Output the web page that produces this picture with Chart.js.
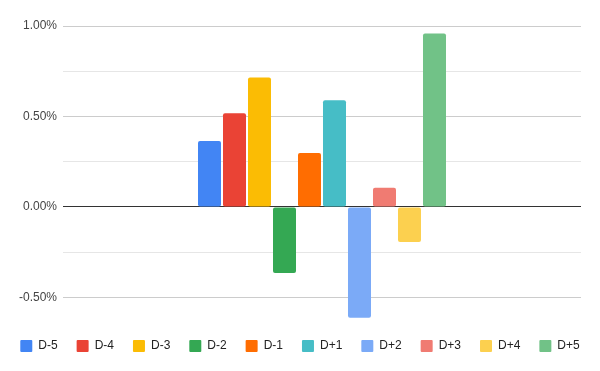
<!DOCTYPE html>
<html>
<head>
<meta charset="utf-8">
<script src="https://cdn.jsdelivr.net/npm/chart.js@4"></script>
<style>
html,body{margin:0;padding:0;background:#fff;}
#wrap{width:600px;height:371px;}
</style>
</head>
<body>
<div id="wrap"><canvas id="c" width="600" height="371"></canvas></div>
<script>
const categories = [''];
const seriesNames = ['D-5','D-4','D-3','D-2','D-1','D+1','D+2','D+3','D+4','D+5'];
const seriesValues = [0.364, 0.518, 0.716, -0.365, 0.298, 0.59, -0.612, 0.106, -0.194, 0.958];
const seriesColors = ['#4285F4','#EA4335','#FBBC04','#34A853','#FF6D01','#46BDC6','#7BAAF7','#F07B72','#FCD04F','#71C287'];
const yTicks = [-0.5, -0.25, 0, 0.25, 0.5, 0.75, 1.0];
const yLabels = ['-0.50%', '', '0.00%', '', '0.50%', '', '1.00%'];

Chart.defaults.font.family = '"Liberation Sans", Arial, sans-serif';
Chart.defaults.font.size = 12;

const datasets = seriesNames.map((n, i) => ({
  label: n,
  data: [seriesValues[i]],
  backgroundColor: seriesColors[i],
  borderWidth: 0,
  borderRadius: 2,
  borderSkipped: false,
  categoryPercentage: 0.4826,
  barPercentage: 0.92
}));

new Chart(document.getElementById('c'), {
  type: 'bar',
  data: { labels: categories, datasets },
  options: {
    responsive: false,
    animation: false,
    devicePixelRatio: 1,
    layout: { padding: { left: 0, right: 0, top: 26, bottom: 9 } },
    plugins: {
      tooltip: { enabled: false },
      legend: {
        position: 'bottom',
        labels: {
          boxWidth: 12,
          boxHeight: 12,
          padding: 19,
          color: '#222',
          font: { size: 12 },
          useBorderRadius: true,
          borderRadius: 1
        }
      }
    },
    scales: {
      x: { display: false },
      y: {
        min: -0.63,
        max: 1.0,
        afterFit: (ax) => { ax.width = 63; },
        afterBuildTicks: (ax) => { ax.ticks = yTicks.map(v => ({ value: v })); },
        ticks: {
          padding: 6,
          color: '#444',
          font: { size: 12 },
          callback: (v) => { const i = yTicks.findIndex(t => Math.abs(t - v) < 1e-9); return i >= 0 ? yLabels[i] : ''; }
        },
        border: { display: false },
        grid: {
          drawTicks: false,
          color: (ctx) => {
            const v = ctx.tick ? ctx.tick.value : null;
            if (v === null) return 'rgba(0,0,0,0)';
            if (Math.abs(v) < 1e-9) return '#333333';
            if (Math.abs(Math.round(v / 0.5) * 0.5 - v) < 1e-9) return '#cccccc';
            return '#e6e6e6';
          },
          lineWidth: 1
        }
      },
      yR: {
        position: 'right',
        min: -0.63,
        max: 1.0,
        afterFit: (ax) => { ax.width = 19; },
        ticks: { display: false },
        grid: { display: false, drawTicks: false },
        border: { display: false }
      }
    }
  }
});
</script>
</body>
</html>
